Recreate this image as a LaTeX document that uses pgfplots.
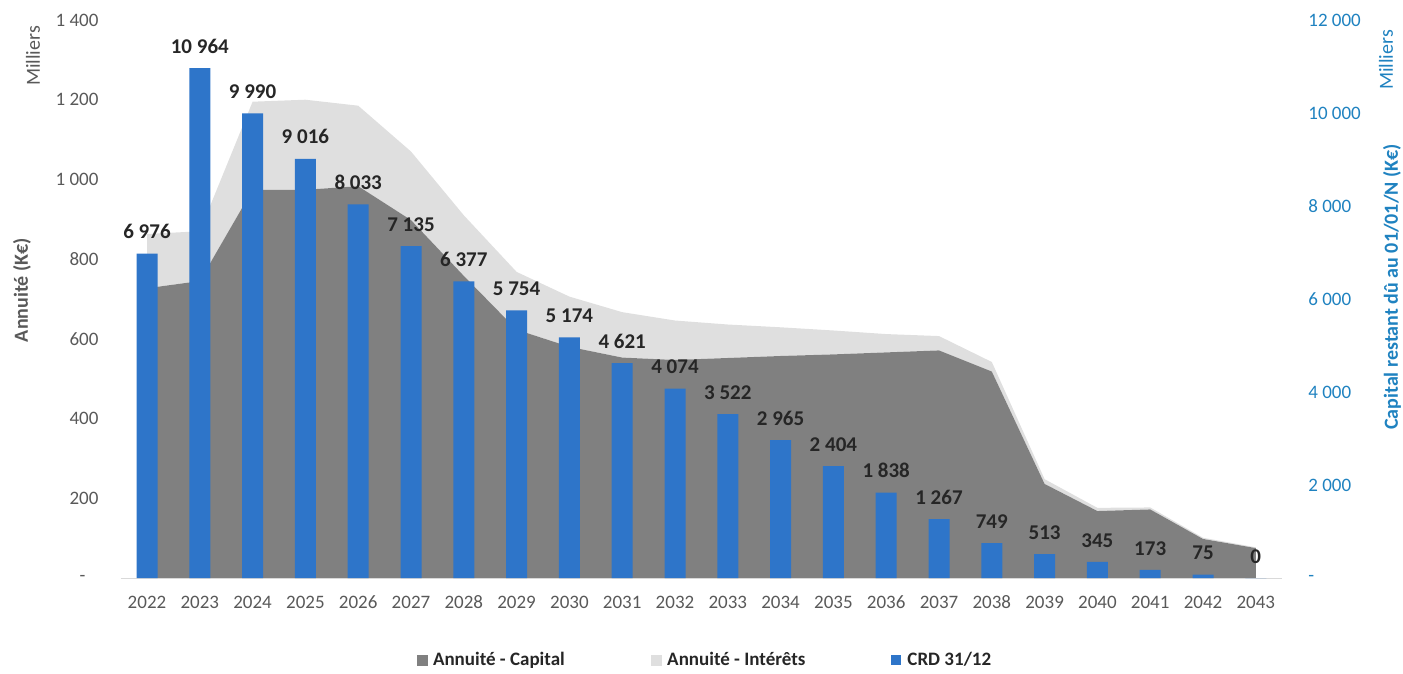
\documentclass[border=0pt]{standalone}
\usepackage{pgfplots}
\pgfplotsset{compat=1.18}
\usepackage{pgfplotstable}
\usepackage{fontspec}
\setmainfont{Carlito}
\definecolor{capgray}{RGB}{128,128,128}
\definecolor{intgray}{RGB}{223,223,223}
\definecolor{barblue}{RGB}{46,117,201}
\definecolor{txtgray}{RGB}{89,89,89}
\definecolor{txtblue}{RGB}{31,130,192}
\definecolor{txtdark}{RGB}{38,38,38}

\pgfplotstableread[col sep=comma]{
x,cap,int,crd,lab
0,727,136,6976,6~976
1,745,125,10964,10~964
2,974,221,9990,9~990
3,974,226,9016,9~016
4,983,202,8033,8~033
5,898,172,7135,7~135
6,758,152,6377,6~377
7,623,145,5754,5~754
8,580,126,5174,5~174
9,553,114,4621,4~621
10,547,99,4074,4~074
11,552,84,3522,3~522
12,557,72,2965,2~965
13,561,60,2404,2~404
14,566,46,1838,1~838
15,571,36,1267,1~267
16,518,24,749,749
17,236,12,513,513
18,168,8,345,345
19,172,5,173,173
20,98,3,75,75
21,75,2,0,0
}\data

\begin{document}
\begin{tikzpicture}[x=1pt,y=1pt]
\useasboundingbox (0,0) rectangle (1403,673);
% ---- left axis: stacked areas ----
\begin{axis}[
  at={(120.6pt,95pt)}, anchor=south west, scale only axis,
  width=1161.6pt, height=558pt,
  xmin=-0.5, xmax=21.5, ymin=0, ymax=1400,
  stack plots=y,
  scaled y ticks=false,
  axis y line*=left,
  axis line style={draw=none},
  major tick length=0pt,
  xtick=\empty,
  ytick={0,200,400,600,800,1000,1200,1400},
  yticklabels={{-\kern13pt},200,400,600,800,1~000,1~200,1~400},
  yticklabel style={anchor=east, inner sep=0pt, xshift=-22pt,
    font=\fontsize{19}{22}\selectfont, text=txtgray},
]
\addplot[fill=capgray, draw=none] table[x=x,y=cap]{\data} \closedcycle;
\addplot[fill=intgray, draw=none] table[x=x,y=int]{\data} \closedcycle;
\end{axis}
% ---- right axis: CRD bars ----
\begin{axis}[
  at={(120.6pt,95pt)}, anchor=south west, scale only axis,
  width=1161.6pt, height=558pt,
  xmin=-0.5, xmax=21.5, ymin=0, ymax=12000,
  scaled y ticks=false, scaled x ticks=false,
  axis y line*=right, axis x line*=bottom,
  x axis line style={-, draw=black!15},
  y axis line style={draw=none},
  major tick length=0pt,
  xtick={0,1,...,21},
  xticklabels={2022,2023,2024,2025,2026,2027,2028,2029,2030,2031,2032,2033,2034,2035,2036,2037,2038,2039,2040,2041,2042,2043},
  xticklabel style={anchor=base, inner sep=0pt, yshift=-30pt,
    font=\fontsize{19}{22}\selectfont, text=txtgray},
  ytick={0,2000,4000,6000,8000,10000,12000},
  yticklabels={-,2~000,4~000,6~000,8~000,10~000,12~000},
  yticklabel style={anchor=west, inner sep=0pt, xshift=26pt,
    font=\fontsize{19}{22}\selectfont, text=txtblue},
  legend style={at={(0.503,-0.147)}, anchor=center, draw=none, fill=none,
    legend columns=3, font=\bfseries\fontsize{19}{22}\selectfont,
    text=txtdark, nodes={inner sep=2pt},
    /tikz/every even column/.append style={column sep=84pt}},
  legend cell align=left,
]
\addlegendimage{legend image code/.code={\fill[capgray] (0pt,-5pt) rectangle (10pt,5pt); \path (14pt,0pt);}}
\addlegendimage{legend image code/.code={\fill[intgray] (0pt,-5pt) rectangle (10pt,5pt); \path (14pt,0pt);}}
\addplot[ybar, bar width=21pt, bar shift=0pt, fill=barblue, draw=none,
  point meta=explicit symbolic,
  nodes near coords,
  every node near coord/.append style={anchor=south, inner sep=0pt, yshift=14.5pt,
    font=\bfseries\fontsize{21}{24}\selectfont, text=txtdark},
  legend image code/.code={\fill[barblue] (0pt,-5pt) rectangle (10pt,5pt); \path (14pt,0pt);}]
  table[x=x,y=crd,meta=lab]{\data};
\legend{Annuité - Capital, Annuité - Intérêts, CRD 31/12}
\end{axis}
% ---- axis titles ----
\node[rotate=90, font=\bfseries\fontsize{20}{22}\selectfont, text=txtgray]
  at (22,383) {Annuité (K€)};
\node[rotate=90, font=\fontsize{20}{22}\selectfont, text=txtgray]
  at (33,617) {Milliers};
\node[rotate=90, font=\fontsize{20}{22}\selectfont, text=txtblue]
  at (1386,613) {Milliers};
\node[rotate=90, font=\bfseries\fontsize{20}{22}\selectfont, text=txtblue]
  at (1392,386) {Capital restant dû au 01/01/N (K€)};
\end{tikzpicture}
\end{document}
